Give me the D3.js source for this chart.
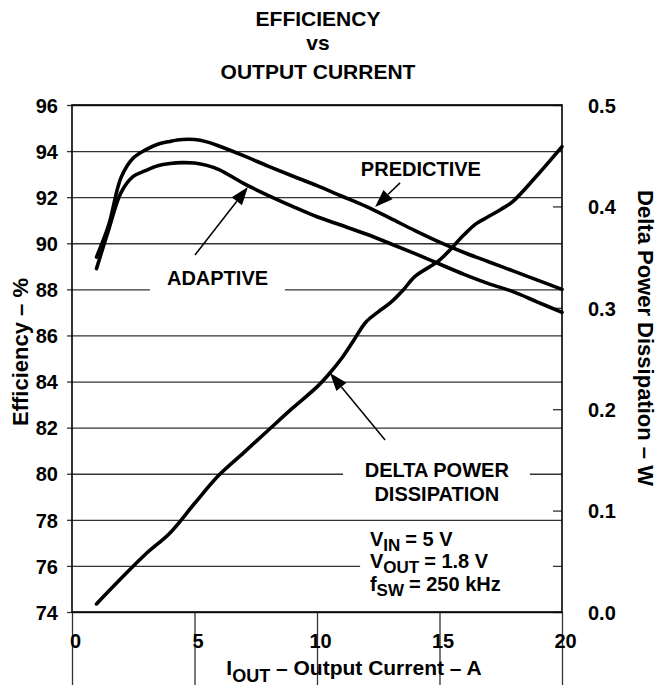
<!DOCTYPE html>
<html>
<head>
<meta charset="utf-8">
<script src="https://cdn.jsdelivr.net/npm/d3@7"></script>
<style>
  body { margin: 0; background: #fff; }
  text { font-family: "Liberation Sans", Arial, sans-serif; font-weight: bold; fill: #000; }
</style>
</head>
<body>
<div id="chart"></div>
<script>
// efficiency curves share the same current samples (A)
const effCurrent = [1, 1.5, 2, 2.5, 3, 3.5, 4, 4.5, 5, 5.5, 6, 7, 8, 9, 10, 11, 12, 13, 14, 15, 16, 17, 18, 19, 20];
const predictiveEff = [89.4, 90.8, 92.85, 93.7, 94.05, 94.3, 94.42, 94.5, 94.5, 94.4, 94.22, 93.8, 93.35, 92.92, 92.5, 92.05, 91.6, 91.08, 90.55, 90.05, 89.6, 89.2, 88.8, 88.4, 88.0];
const adaptiveEff = [88.9, 90.6, 92.2, 92.9, 93.15, 93.36, 93.46, 93.5, 93.48, 93.38, 93.2, 92.6, 92.08, 91.6, 91.15, 90.78, 90.4, 89.98, 89.55, 89.1, 88.65, 88.25, 87.9, 87.45, 87.0];

// delta power dissipation (W), right axis
const deltaCurrent = [1, 2, 3, 4, 5, 6, 7, 8, 9, 10, 10.5, 11, 11.5, 12, 12.5, 13, 13.5, 14, 15, 16, 16.5, 17, 17.5, 18, 19, 20];
const deltaPower = [0.008, 0.033, 0.057, 0.078, 0.107, 0.135, 0.157, 0.179, 0.201, 0.222, 0.235, 0.25, 0.268, 0.286, 0.296, 0.305, 0.317, 0.331, 0.347, 0.372, 0.383, 0.39, 0.397, 0.405, 0.431, 0.459];

// tick labels
const xTicks = [0, 5, 10, 15, 20];
const effTicks = [74, 76, 78, 80, 82, 84, 86, 88, 90, 92, 94, 96];
const powerTicks = [0, 0.1, 0.2, 0.3, 0.4, 0.5];

const titleLines = ["EFFICIENCY", "vs", "OUTPUT CURRENT"];

const margin = {top: 105, right: 95, bottom: 73, left: 72};
const W = 657, H = 685;
const width = W - margin.left - margin.right;
const height = H - margin.top - margin.bottom;

const svg = d3.select("#chart")
    .append("svg")
    .attr("width", W)
    .attr("height", H);

const g = svg.append("g")
    .attr("transform", `translate(${margin.left},${margin.top})`);

const x = d3.scaleLinear().domain([0, 20]).range([0, width]);
const y = d3.scaleLinear().domain([74, 96]).range([height, 0]);
const y2 = d3.scaleLinear().domain([0, 0.5]).range([height, 0]);

// grid
g.append("g")
    .attr("class", "grid")
    .call(d3.axisLeft(y).tickValues(effTicks).tickSize(-width).tickFormat(""))
    .call(a => a.select(".domain").remove());
g.append("g")
    .attr("class", "grid")
    .attr("transform", `translate(0,${height})`)
    .call(d3.axisBottom(x).tickValues(xTicks).tickSize(height).tickFormat(""))
    .call(a => a.select(".domain").remove());
g.selectAll(".grid line").attr("stroke", "#333").attr("stroke-width", 1.3);

// right axis inner ticks
g.append("g")
    .attr("transform", `translate(${width},0)`)
    .call(d3.axisRight(y2).tickValues(powerTicks).tickSize(-9).tickPadding(26).tickFormat(d3.format(".1f")))
    .call(a => a.select(".domain").remove())
    .call(a => a.selectAll("line").attr("stroke", "#333").attr("stroke-width", 1.3))
    .call(a => a.selectAll("text").style("font-size", "20px").attr("dy", "0.36em"));

// left axis
g.append("g")
    .call(d3.axisLeft(y).tickValues(effTicks).tickSize(5).tickPadding(9))
    .call(a => a.select(".domain").remove())
    .call(a => a.selectAll("line").attr("stroke", "#333").attr("stroke-width", 1.3))
    .call(a => a.selectAll("text").style("font-size", "20px").attr("dy", "0.36em"));

// bottom axis
g.append("g")
    .attr("transform", `translate(0,${height})`)
    .call(d3.axisBottom(x).tickValues(xTicks).tickSize(0).tickPadding(22))
    .call(a => a.select(".domain").remove())
    .call(a => a.selectAll("text").style("font-size", "20px").attr("dx", "3"));

// annotations: label boxes hide the grid behind the text (data coordinates)
const boxes = [
    {x0: 11.35, x1: 17.06, y0: 93.92, y1: 92.62},
    {x0: 3.18, x1: 8.69, y0: 89.14, y1: 87.93},
    {x0: 11.06, x1: 18.69, y0: 80.81, y1: 78.38},
    {x0: 11.76, x1: 19.63, y0: 77.77, y1: 74.39}
];
g.append("g")
    .selectAll("rect")
    .data(boxes)
    .enter()
    .append("rect")
    .attr("x", d => x(d.x0))
    .attr("y", d => y(d.y0))
    .attr("width", d => x(d.x1) - x(d.x0))
    .attr("height", d => y(d.y1) - y(d.y0))
    .attr("fill", "#fff");

// frame
g.append("rect")
    .attr("width", width)
    .attr("height", height)
    .attr("fill", "none")
    .attr("stroke", "#000")
    .attr("stroke-width", 1.6);

// curves
const effLine = d3.line()
    .x((d, i) => x(effCurrent[i]))
    .y(d => y(d))
    .curve(d3.curveCatmullRom.alpha(0.5));

[predictiveEff, adaptiveEff].forEach(s => {
    g.append("path")
        .datum(s)
        .attr("fill", "none")
        .attr("stroke", "#000")
        .attr("stroke-width", 3.6)
        .attr("stroke-linecap", "round")
        .attr("d", effLine);
});

g.append("path")
    .datum(deltaPower)
    .attr("fill", "none")
    .attr("stroke", "#000")
    .attr("stroke-width", 3.6)
    .attr("stroke-linecap", "round")
    .attr("d", d3.line()
        .x((d, i) => x(deltaCurrent[i]))
        .y(d => y2(d))
        .curve(d3.curveCatmullRom.alpha(0.5)));

// arrows (tail -> tip, data coordinates)
const arrows = [
    {x0: 13.39, y0: 92.62, x1: 12.37, y1: 91.57},
    {x0: 5.02, y0: 89.49, x1: 7.18, y1: 92.44},
    {x0: 12.78, y0: 81.46, x1: 10.53, y1: 84.37}
];
arrows.forEach(a => {
    const tx = x(a.x0), ty = y(a.y0), hx = x(a.x1), hy = y(a.y1);
    const len = Math.hypot(hx - tx, hy - ty);
    const ux = (hx - tx) / len, uy = (hy - ty) / len;
    const hl = 18, hw = 6.5;
    const bx = hx - ux * hl, by = hy - uy * hl;
    g.append("line")
        .attr("x1", tx).attr("y1", ty)
        .attr("x2", bx).attr("y2", by)
        .attr("stroke", "#000")
        .attr("stroke-width", 1.5);
    g.append("path")
        .attr("d", `M${hx},${hy}L${bx - uy * hw},${by + ux * hw}L${bx + uy * hw},${by - ux * hw}Z`)
        .attr("fill", "#000");
});

// annotation labels
const labels = [
    {text: "PREDICTIVE", x: 14.24, y: 92.92},
    {text: "ADAPTIVE", x: 5.94, y: 88.21},
    {text: "DELTA POWER", x: 14.89, y: 79.86},
    {text: "DISSIPATION", x: 14.89, y: 78.82}
];
g.append("g")
    .selectAll("text")
    .data(labels)
    .enter()
    .append("text")
    .attr("x", d => x(d.x))
    .attr("y", d => y(d.y))
    .attr("text-anchor", "middle")
    .style("font-size", "20px")
    .text(d => d.text);

// operating conditions: symbol, subscript and value as separate texts
const conditions = [
    {main: "V", sub: "IN", rest: "= 5 V", y: 76.86},
    {main: "V", sub: "OUT", rest: "= 1.8 V", y: 75.89},
    {main: "f", sub: "SW", rest: "= 250 kHz", y: 74.89}
];
conditions.forEach(c => {
    let cx = x(12.16);
    const by = y(c.y);
    const m = g.append("text").attr("x", cx).attr("y", by).style("font-size", "20px").text(c.main);
    cx += m.node().getComputedTextLength();
    const s = g.append("text").attr("x", cx).attr("y", by + 5).style("font-size", "17px").text(c.sub);
    cx += s.node().getComputedTextLength() + 5;
    g.append("text").attr("x", cx).attr("y", by).style("font-size", "20px").text(c.rest);
});

// title
svg.append("g")
    .selectAll("text")
    .data(titleLines)
    .enter()
    .append("text")
    .attr("x", 318)
    .attr("y", (d, i) => [26, 50, 79][i])
    .attr("text-anchor", "middle")
    .style("font-size", "21px")
    .text(d => d);

// axis titles
svg.append("text")
    .attr("transform", "translate(28,352) rotate(-90)")
    .attr("text-anchor", "middle")
    .style("font-size", "22px")
    .text("Efficiency – %");

svg.append("text")
    .attr("transform", "translate(638,338) rotate(90)")
    .attr("text-anchor", "middle")
    .style("font-size", "22px")
    .text("Delta Power Dissipation – W");

const xt = svg.append("text")
    .attr("x", 354)
    .attr("y", 675)
    .attr("text-anchor", "middle")
    .style("font-size", "21px");
xt.append("tspan").text("I");
xt.append("tspan").attr("dy", 7).style("font-size", "18px").text("OUT");
xt.append("tspan").attr("dy", -7).text(" – Output Current – A");
</script>
</body>
</html>
